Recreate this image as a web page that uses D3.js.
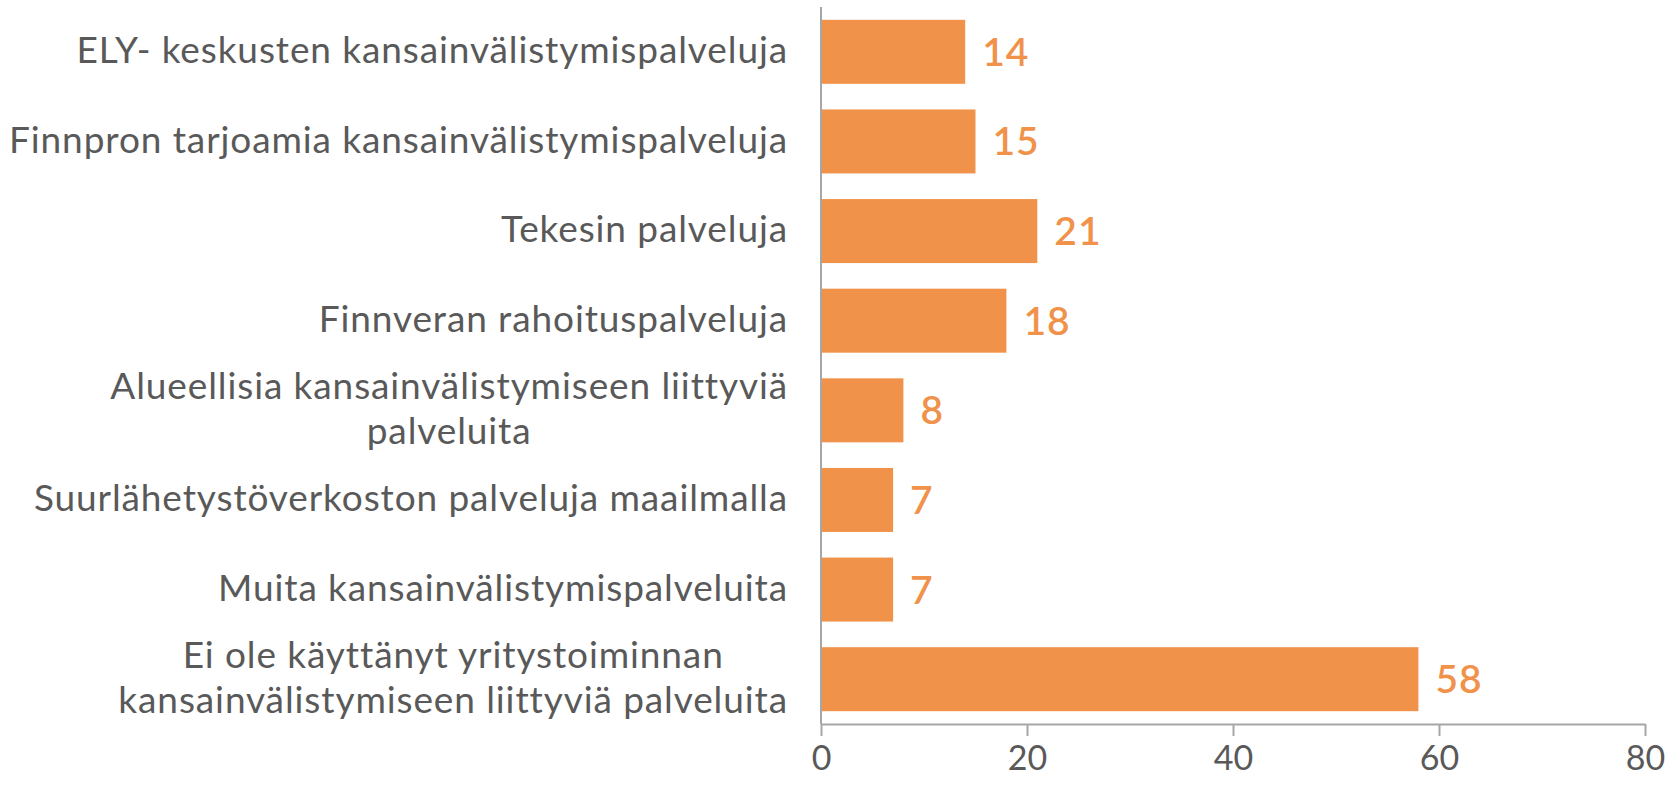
<!DOCTYPE html>
<html>
<head>
<meta charset="utf-8">
<script src="https://cdn.jsdelivr.net/npm/d3@7"></script>
<style>
  html, body { margin: 0; padding: 0; background: #fff; }
  svg { display: block; }
</style>
</head>
<body>
<svg id="chart" width="1677" height="786"></svg>
<script>
// category labels, each line of a wrapped label as its own string
const categories = [
    ['ELY- keskusten kansainvälistymispalveluja'],
    ['Finnpron tarjoamia kansainvälistymispalveluja'],
    ['Tekesin palveluja'],
    ['Finnveran rahoituspalveluja'],
    ['Alueellisia kansainvälistymiseen liittyviä', 'palveluita'],
    ['Suurlähetystöverkoston palveluja maailmalla'],
    ['Muita kansainvälistymispalveluita'],
    ['Ei ole käyttänyt yritystoiminnan', 'kansainvälistymiseen liittyviä palveluita']
];
const values = [14, 15, 21, 18, 8, 7, 7, 58];
const xTicks = [0, 20, 40, 60, 80];

const barColor = '#F0924A',
    textColor = '#595959',
    axisColor = '#A6A6A6',
    fontFamily = 'Lato, "Liberation Sans", sans-serif';

const svg = d3.select('#chart');

const x = d3.scaleLinear()
    .domain([0, 80])
    .range([821, 1645]);

const y = d3.scaleBand()
    .domain(d3.range(categories.length))
    .range([7, 724])
    .paddingInner(0.286)
    .paddingOuter(0.143);

// bars
svg.append('g')
    .selectAll('rect')
    .data(values)
    .join('rect')
    .attr('x', x(0))
    .attr('y', (d, i) => y(i))
    .attr('width', d => x(d) - x(0))
    .attr('height', y.bandwidth())
    .attr('fill', barColor);

// value labels
svg.append('g')
    .selectAll('text')
    .data(values)
    .join('text')
    .attr('x', d => x(d) + 17)
    .attr('y', (d, i) => y(i) + y.bandwidth() / 2)
    .attr('dy', '0.36em')
    .attr('fill', barColor)
    .attr('font-family', fontFamily)
    .attr('font-weight', 600)
    .attr('font-size', 39)
    .attr('letter-spacing', 1)
    .text(d => d);

// bottom axis
const xAxis = svg.append('g')
    .attr('transform', `translate(0,${y.range()[1]})`)
    .call(d3.axisBottom(x).tickValues(xTicks).tickSize(12).tickPadding(10).tickSizeOuter(0));

xAxis.select('.domain').attr('stroke', axisColor).attr('stroke-width', 2);
xAxis.selectAll('.tick line').attr('stroke', axisColor).attr('stroke-width', 2);
xAxis.selectAll('.tick text')
    .attr('fill', textColor)
    .attr('font-family', fontFamily)
    .attr('font-size', 34);

// vertical category axis line
svg.append('line')
    .attr('x1', x(0))
    .attr('x2', x(0))
    .attr('y1', y.range()[0])
    .attr('y2', y.range()[1])
    .attr('stroke', axisColor)
    .attr('stroke-width', 2);

// category labels: single lines right aligned, wrapped lines centred on their block
const labelRight = 788,
    lineHeight = 44.5;

const labels = svg.append('g')
    .attr('fill', textColor)
    .attr('font-family', fontFamily)
    .attr('font-size', 37)
    .attr('letter-spacing', 0.9);

categories.forEach((lines, i) => {
    const cy = y(i) + y.bandwidth() / 2 - 2;
    const text = labels.append('text');
    const spans = text.selectAll('tspan')
        .data(lines)
        .join('tspan')
        .attr('y', (d, j) => cy + (j - (lines.length - 1) / 2) * lineHeight)
        .attr('dy', '0.36em')
        .text(d => d);

    if (lines.length === 1) {
        spans.attr('x', labelRight).attr('text-anchor', 'end');
    } else {
        const widest = d3.max(spans.nodes(), n => n.getComputedTextLength());
        spans.attr('x', labelRight - widest / 2).attr('text-anchor', 'middle');
    }
});
</script>
</body>
</html>
